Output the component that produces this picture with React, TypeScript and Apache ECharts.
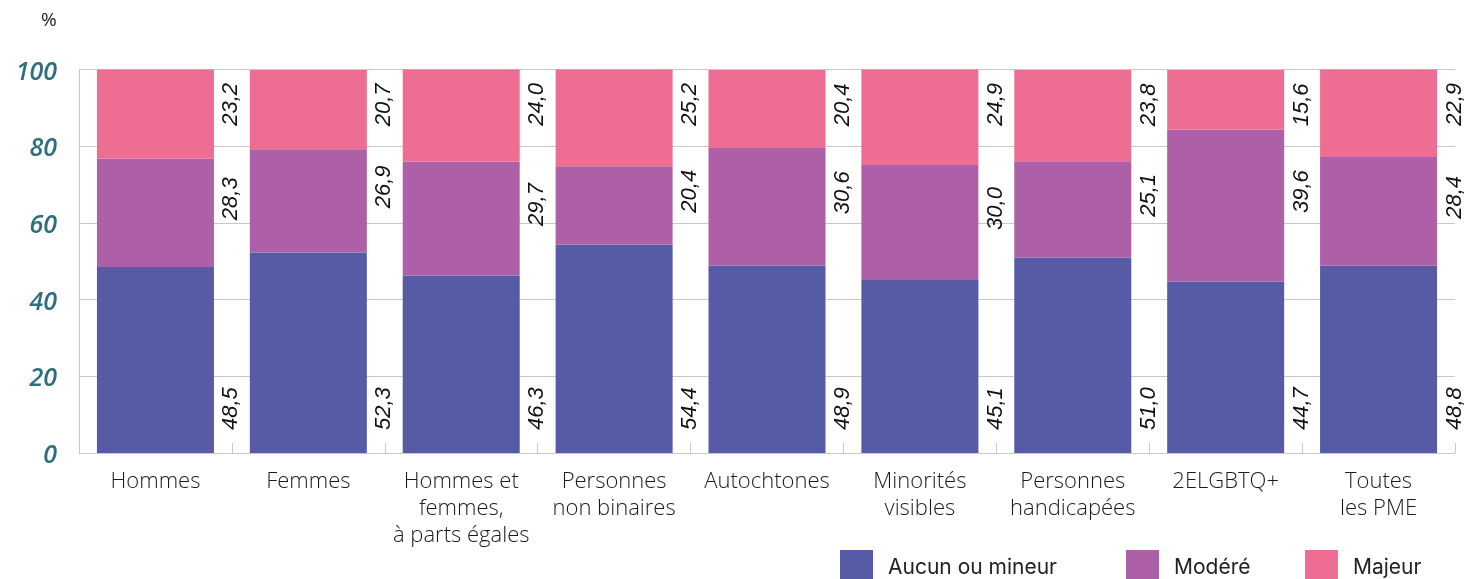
import React, { useEffect, useRef } from "react";
import * as echarts from "echarts";

const categories = [
  "Hommes",
  "Femmes",
  "Hommes et\nfemmes,\nà parts égales",
  "Personnes\nnon binaires",
  "Autochtones",
  "Minorités\nvisibles",
  "Personnes\nhandicapées",
  "2ELGBTQ+",
  "Toutes\nles PME",
];
const aucun = [48.5, 52.3, 46.3, 54.4, 48.9, 45.1, 51.0, 44.7, 48.8];
const modere = [28.3, 26.9, 29.7, 20.4, 30.6, 30.0, 25.1, 39.6, 28.4];
const majeur = [23.2, 20.7, 24.0, 25.2, 20.4, 24.9, 23.8, 15.6, 22.9];
const seriesNames = ["Aucun ou mineur", "Modéré", "Majeur"];
const yTicks = [0, 20, 40, 60, 80, 100];

const colors = ["#575BA6", "#AD5FA7", "#EE6D93"];
const legendLefts = [840, 1126, 1305];
const fmt = (v: number) => v.toFixed(1).replace(".", ",");

export default function App() {
  const ref = useRef<HTMLDivElement>(null);
  useEffect(() => {
    if (!ref.current) return;
    const chart = echarts.init(ref.current, undefined, { renderer: "svg" });
    const labelBase = {
      show: true,
      rotate: 90,
      color: "#111",
      fontFamily: "Liberation Sans",
      fontStyle: "italic" as const,
      fontSize: 22,
      lineHeight: 22,
      verticalAlign: "middle" as const,
      formatter: (p: any) => fmt(p.value),
    };
    chart.setOption({
      animation: false,
      grid: { left: 79, right: 10, top: 69.5, bottom: 126 },
      legend: seriesNames.map((name, i) => ({
        left: legendLefts[i],
        top: 550,
        padding: 0,
        itemWidth: 33,
        itemHeight: 33,
        icon: "rect",
        textStyle: {
          fontFamily: "Inter",
          fontSize: 21,
          color: "#222",
          padding: [4, 0, 0, 10],
        },
        data: [name],
      })),
      graphic: [
        {
          type: "text",
          left: 41,
          top: 9,
          style: { text: "%", fontFamily: "Open Sans", fontSize: 19, fill: "#222" },
        },
      ],
      xAxis: {
        type: "category",
        data: categories,
        axisLine: { lineStyle: { color: "#c8c8c8" } },
        axisTick: { show: true, inside: true, length: 10, lineStyle: { color: "#c8c8c8" } },
        axisLabel: {
          interval: 0,
          margin: 12,
          fontFamily: "Open Sans",
          fontWeight: 300,
          fontSize: 22,
          lineHeight: 27,
          color: "#1a1a1a",
        },
      },
      yAxis: {
        type: "value",
        min: yTicks[0],
        max: yTicks[yTicks.length - 1],
        interval: 20,
        axisLine: { show: true, lineStyle: { color: "#c8c8c8" } },
        axisTick: { show: false },
        splitLine: { lineStyle: { color: "#c8c8c8" } },
        axisLabel: {
          margin: 22,
          fontFamily: "Open Sans",
          fontStyle: "italic",
          fontWeight: 600,
          fontSize: 25,
          color: "#2E6E7F",
        },
      },
      series: [
        {
          name: seriesNames[0],
          type: "bar",
          stack: "total",
          barWidth: 117,
          data: aucun,
          itemStyle: { color: colors[0] },
          label: { ...labelBase, position: ["100%", "100%"], align: "left", offset: [23, 16] },
        },
        {
          name: seriesNames[1],
          type: "bar",
          stack: "total",
          barWidth: 117,
          data: modere,
          itemStyle: { color: colors[1] },
          label: { ...labelBase, position: ["100%", "50%"], align: "center", offset: [14, 16] },
        },
        {
          name: seriesNames[2],
          type: "bar",
          stack: "total",
          barWidth: 117,
          data: majeur,
          itemStyle: { color: colors[2] },
          label: { ...labelBase, position: ["100%", 0], align: "right", offset: [-13.5, 16] },
        },
      ],
    });
    return () => chart.dispose();
  }, []);
  return (
    <div
      ref={ref}
      style={{ position: "fixed", left: 0, top: 0, width: 1465, height: 579 }}
    />
  );
}
